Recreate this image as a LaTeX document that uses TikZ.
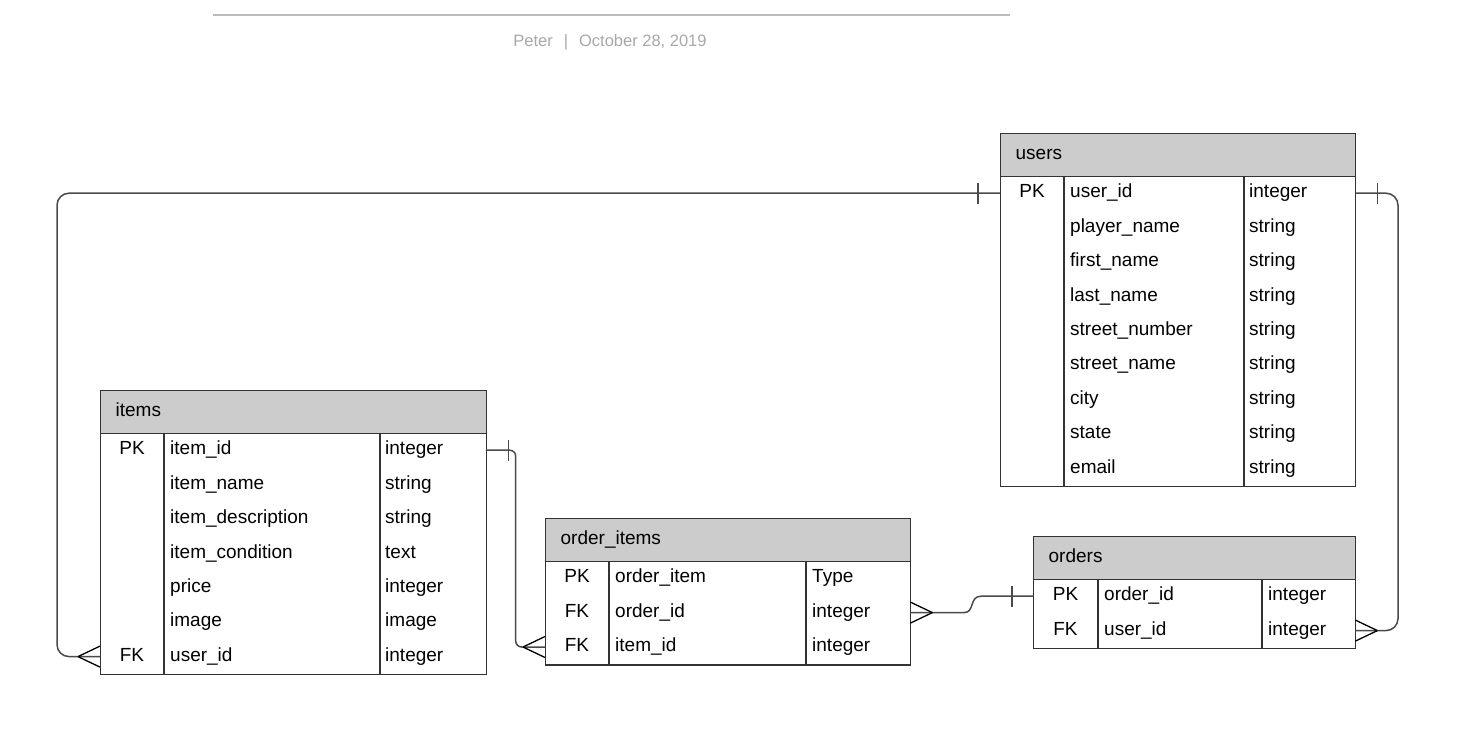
\documentclass[tikz,border=0pt]{standalone}
\usepackage{fontspec}
\setmainfont{Liberation Sans}
\usetikzlibrary{calc}
\definecolor{linec}{HTML}{333333}
\definecolor{connc}{HTML}{4A4A4A}
\definecolor{hdrc}{HTML}{CCCCCC}
\definecolor{metac}{HTML}{A8A8A8}
\definecolor{rulec}{HTML}{BBBBBB}
\begin{document}
\begin{tikzpicture}[x=1pt,y=-1pt,
  tbody/.style={draw=linec, line width=1.3pt, fill=white, inner sep=0pt, anchor=north west},
  thdr/.style={draw=linec, line width=1.3pt, fill=hdrc, inner xsep=15pt, inner ysep=0pt,
     anchor=north west, minimum height=43pt, align=left,
     font=\fontsize{19}{22}\selectfont, text height=13.5pt, text depth=4pt},
  cell/.style={inner sep=0pt, font=\fontsize{19}{22}\selectfont, text height=13.5pt, text depth=4pt, anchor=west},
  keyc/.style={inner sep=0pt, font=\fontsize{19}{22}\selectfont, text height=13.5pt, text depth=4pt, anchor=center},
  rowbox/.style={inner sep=0pt, draw=none, minimum height=34.4pt},
  divl/.style={draw=linec, line width=1.3pt},
  conn/.style={draw=connc, line width=1.5pt},
  foot/.style={draw=black, line width=1.3pt},
  meta/.style={text=metac, font=\fontsize{16.5}{19}\selectfont, inner sep=0pt}
]
\useasboundingbox (0,0) rectangle (1469,743);

% header rule and meta
\draw[draw=rulec, line width=2pt] (213,15) -- (1010,15);
\node[meta] (meta) at (610,42.5) {Peter\hspace{11pt}|\hspace{11pt}October 28, 2019};

% ---------- users ----------
\node[tbody, minimum width=355pt, minimum height=309.6pt] (users-b) at (1000,176) {};
\node[thdr, text width=325pt] (users-h) at (1000,133) {users};
\draw[divl] (1064,176) -- (1064,485.6);
\draw[divl] (1244,176) -- (1244,485.6);
\node[rowbox, minimum width=355pt, anchor=west] (users-uid) at (1000,193.2) {};
\foreach \i/\k/\f/\t in {1/PK/user\_id/integer, 2//player\_name/string, 3//first\_name/string,
  4//last\_name/string, 5//street\_number/string, 6//street\_name/string, 7//city/string,
  8//state/string, 9//email/string}{
  \pgfmathsetmacro{\yy}{176+34.4*(\i-0.5)}
  \node[keyc] (users-k\i) at (1032,\yy) {\k};
  \node[cell] (users-f\i) at (1070,\yy) {\f};
  \node[cell] (users-t\i) at (1249,\yy) {\t};
}

% ---------- items ----------
\node[tbody, minimum width=386pt, minimum height=240.8pt] (items-b) at (100,433) {};
\node[thdr, text width=356pt] (items-h) at (100,390) {items};
\draw[divl] (164,433) -- (164,673.8);
\draw[divl] (380,433) -- (380,673.8);
\node[rowbox, minimum width=386pt, anchor=west] (items-iid) at (100,450.2) {};
\node[rowbox, minimum width=386pt, anchor=west] (items-fk) at (100,656.6) {};
\foreach \i/\k/\f/\t in {1/PK/item\_id/integer, 2//item\_name/string, 3//item\_description/string,
  4//item\_condition/text, 5//price/integer, 6//image/image, 7/FK/user\_id/integer}{
  \pgfmathsetmacro{\yy}{433+34.4*(\i-0.5)}
  \node[keyc] (items-k\i) at (132,\yy) {\k};
  \node[cell] (items-f\i) at (170,\yy) {\f};
  \node[cell] (items-t\i) at (385,\yy) {\t};
}

% ---------- order_items ----------
\node[tbody, minimum width=365pt, minimum height=103.2pt] (oi-b) at (545,561) {};
\node[thdr, text width=335pt] (oi-h) at (545,518) {order\_items};
\draw[divl] (609,561) -- (609,664.2);
\draw[divl] (806,561) -- (806,664.2);
\node[rowbox, minimum width=365pt, anchor=west] (oi-oid) at (545,612.6) {};
\node[rowbox, minimum width=365pt, anchor=west] (oi-iid) at (545,647) {};
\foreach \i/\k/\f/\t in {1/PK/order\_item/Type, 2/FK/order\_id/integer, 3/FK/item\_id/integer}{
  \pgfmathsetmacro{\yy}{561+34.4*(\i-0.5)}
  \node[keyc] (oi-k\i) at (577,\yy) {\k};
  \node[cell] (oi-f\i) at (615,\yy) {\f};
  \node[cell] (oi-t\i) at (812,\yy) {\t};
}

% ---------- orders ----------
\node[tbody, minimum width=322pt, minimum height=68.8pt] (orders-b) at (1033,579) {};
\node[thdr, text width=292pt] (orders-h) at (1033,536) {orders};
\draw[divl] (1098,579) -- (1098,647.8);
\draw[divl] (1262,579) -- (1262,647.8);
\node[rowbox, minimum width=322pt, anchor=west] (orders-oid) at (1033,596.2) {};
\node[rowbox, minimum width=322pt, anchor=west] (orders-uid) at (1033,630.6) {};
\foreach \i/\k/\f/\t in {1/PK/order\_id/integer, 2/FK/user\_id/integer}{
  \pgfmathsetmacro{\yy}{579+34.4*(\i-0.5)}
  \node[keyc] (orders-k\i) at (1065.5,\yy) {\k};
  \node[cell] (orders-f\i) at (1104,\yy) {\f};
  \node[cell] (orders-t\i) at (1268,\yy) {\t};
}

% ---------- connectors ----------
% users.user_id -> items.user_id
\draw[conn, rounded corners=12pt] (users-uid.west) -| (57,420) |- (items-fk.west);
\draw[conn] ($(users-uid.west)+(-22,-10.5)$) -- ++(0,21);
\draw[foot] ($(items-fk.west)+(-22,0)$) -- ($(items-fk.west)+(0,-10.5)$);
\draw[foot] ($(items-fk.west)+(-22,0)$) -- ($(items-fk.west)+(0,10.5)$);

% users.user_id -> orders.user_id
\draw[conn, rounded corners=12pt] (users-uid.east) -| (1398,420) |- (orders-uid.east);
\draw[conn] ($(users-uid.east)+(22,-10.5)$) -- ++(0,21);
\draw[foot] ($(orders-uid.east)+(22,0)$) -- ($(orders-uid.east)+(0,-10.5)$);
\draw[foot] ($(orders-uid.east)+(22,0)$) -- ($(orders-uid.east)+(0,10.5)$);

% items.item_id -> order_items.item_id
\draw[conn, rounded corners=6pt] (items-iid.east) -| (515.7,550) |- (oi-iid.west);
\draw[conn] ($(items-iid.east)+(22,-10.5)$) -- ++(0,21);
\draw[foot] ($(oi-iid.west)+(-22,0)$) -- ($(oi-iid.west)+(0,-10.5)$);
\draw[foot] ($(oi-iid.west)+(-22,0)$) -- ($(oi-iid.west)+(0,10.5)$);

% orders.order_id -> order_items.order_id
\draw[conn] (oi-oid.east) -- (964,612.6) .. controls (975,612.6) and (969,596.2) .. (981,596.2) -- (orders-oid.west);
\draw[conn] ($(orders-oid.west)+(-21,-10.5)$) -- ++(0,21);
\draw[foot] ($(oi-oid.east)+(22,0)$) -- ($(oi-oid.east)+(0,-10.5)$);
\draw[foot] ($(oi-oid.east)+(22,0)$) -- ($(oi-oid.east)+(0,10.5)$);
\end{tikzpicture}
\end{document}
